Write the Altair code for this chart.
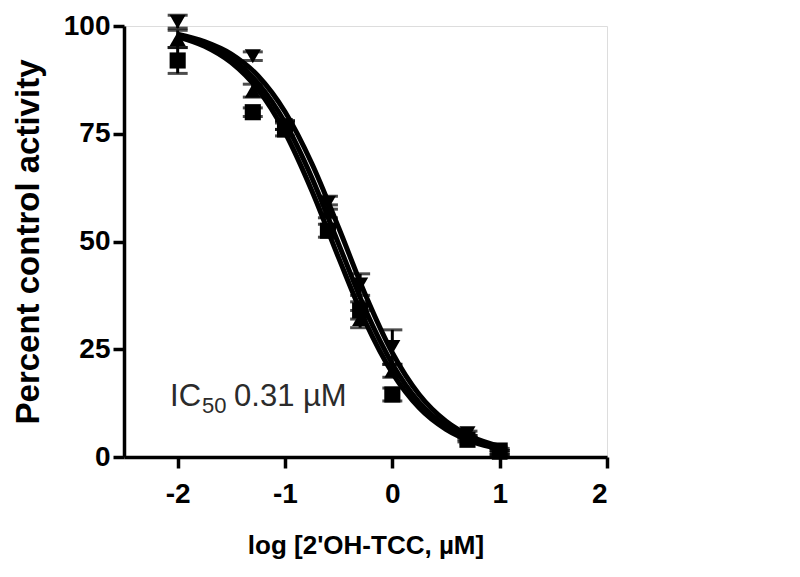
import altair as alt
import pandas as pd

# log concentration of 2'OH-TCC (µM)
log_conc = [-2, -1.3, -1, -0.6, -0.3, 0, 0.7, 1]

# measured percent control activity (mean) and error (SEM) per series
sq_mean = [92, 80, 76, 52.5, 34, 14.5, 4, 1.5]
sq_err = [3, 1, 1.5, 1.5, 2, 1.5, 0.5, 0.5]
up_mean = [97, 85, 77, 57, 32, 20, 4.5, 1]
up_err = [2, 1.5, 1, 1.5, 2, 1.5, 0.5, 0.5]
dn_mean = [101, 93, 77, 59, 40, 25.5, 5.5, 1]
dn_err = [1.5, 1, 1, 1.5, 2.5, 4, 0.5, 0.5]

# fitted curves
curve_x = [-2, -1.75, -1.5, -1.25, -1, -0.75, -0.5, -0.25, 0, 0.25, 0.5, 0.75, 1]
curve_sq = [97.5, 95.3, 91.5, 85.2, 75.3, 61.8, 46.2, 31.3, 19.5, 11.4, 6.4, 3.5, 1.9]
curve_up = [97.8, 95.9, 92.5, 86.7, 77.6, 64.8, 49.4, 34.1, 21.6, 12.7, 7.2, 4.0, 2.1]
curve_dn = [98.1, 96.4, 93.5, 88.4, 80.1, 68.1, 53.2, 37.6, 24.2, 14.5, 8.3, 4.6, 2.5]

x_ticks = [-2, -1, 0, 1, 2]
y_ticks = [0, 25, 50, 75, 100]

FONT = "Liberation Sans"

rows = []
for name, m, e, shape in [("sq", sq_mean, sq_err, "square"),
                          ("up", up_mean, up_err, "triangle-up"),
                          ("dn", dn_mean, dn_err, "triangle-down")]:
    for x, v, er in zip(log_conc, m, e):
        rows.append({"series": name, "shape": shape, "x": x, "y": v,
                     "lo": v - er, "hi": v + er})
pts = pd.DataFrame(rows)

crows = []
for name, c in [("sq", curve_sq), ("up", curve_up), ("dn", curve_dn)]:
    for x, v in zip(curve_x, c):
        crows.append({"series": name, "x": x, "y": v})
curves = pd.DataFrame(crows)

xscale = alt.Scale(domain=[-2.5, 2], nice=False, zero=False)
yscale = alt.Scale(domain=[0, 100], nice=False)

xaxis = alt.Axis(values=x_ticks, title="log [2'OH-TCC, µM]",
                 labelExpr="'' + datum.value",
                 grid=False, domainColor="black", domainWidth=3.5,
                 tickColor="black", tickWidth=3.5, tickSize=11,
                 labelFont=FONT, labelFontSize=28, labelFontWeight="bold",
                 labelColor="black", labelPadding=12,
                 titleFont=FONT, titleFontSize=26, titleFontWeight="bold",
                 titleColor="black", titlePadding=24)
yaxis = alt.Axis(values=y_ticks, title="Percent control activity",
                 grid=False, domainColor="black", domainWidth=3.5,
                 tickColor="black", tickWidth=3.5, tickSize=11,
                 labelFont=FONT, labelFontSize=28, labelFontWeight="bold",
                 labelColor="black", labelPadding=3,
                 titleFont=FONT, titleFontSize=33, titleFontWeight="bold",
                 titleColor="black", titlePadding=18)

lines = alt.Chart(curves).mark_line(color="black", strokeWidth=5,
                                    interpolate="monotone").encode(
    x=alt.X("x:Q", scale=xscale, axis=xaxis),
    y=alt.Y("y:Q", scale=yscale, axis=yaxis),
    detail="series:N",
)

err = alt.Chart(pts).mark_rule(color="black", strokeWidth=3).encode(
    x="x:Q", y="lo:Q", y2="hi:Q")
cap_lo = alt.Chart(pts).mark_tick(color="black", thickness=3, size=20,
                                  orient="horizontal").encode(x="x:Q", y="lo:Q")
cap_hi = alt.Chart(pts).mark_tick(color="black", thickness=3, size=20,
                                  orient="horizontal").encode(x="x:Q", y="hi:Q")

markers = alt.Chart(pts).mark_point(filled=True, opacity=1, color="black",
                                    size=260).encode(
    x="x:Q", y="y:Q",
    shape=alt.Shape("shape:N", scale=alt.Scale(
        domain=["square", "triangle-up", "triangle-down"],
        range=["square", "triangle-up", "triangle-down"]), legend=None),
)

ann_x = [-2.071]
ann_y = [11.8]
ann = pd.DataFrame({"x": ann_x, "y": ann_y, "t": ["IC"]})
ann_sub = pd.DataFrame({"x": ann_x, "y": ann_y, "t": ["50"]})
ann_rest = pd.DataFrame({"x": ann_x, "y": ann_y, "t": ["0.31 µM"]})

TXT = "#2b2b2b"
t1 = alt.Chart(ann).mark_text(font=FONT, fontSize=31, color=TXT,
                              align="left", baseline="alphabetic").encode(
    x="x:Q", y="y:Q", text="t:N")
t2 = alt.Chart(ann_sub).mark_text(font=FONT, fontSize=22, color=TXT,
                                  align="left", baseline="alphabetic",
                                  dx=32, dy=7).encode(x="x:Q", y="y:Q", text="t:N")
t3 = alt.Chart(ann_rest).mark_text(font=FONT, fontSize=31, color=TXT,
                                   align="left", baseline="alphabetic",
                                   dx=64).encode(x="x:Q", y="y:Q", text="t:N")

chart = alt.layer(lines, err, cap_lo, cap_hi, markers, t1, t2, t3).properties(
    width=483, height=431,
    autosize=alt.AutoSizeParams(type="none"),
    padding={"left": 116, "top": 18, "right": 185, "bottom": 112},
).configure_view(stroke=None).configure(background="white")

chart.save("out.html", embed_options={"renderer": "svg", "actions": False})
